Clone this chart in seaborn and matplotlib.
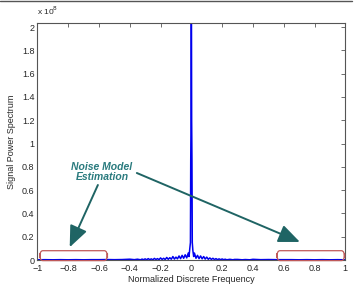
import numpy as np
import pandas as pd
import seaborn as sns
import matplotlib.pyplot as plt
from matplotlib.patches import FancyBboxPatch, FancyArrowPatch
from matplotlib.lines import Line2D

# spectrum (power in units of 1e8)
freq = [-1.00, -0.95, -0.90, -0.85, -0.80, -0.75, -0.70, -0.65, -0.60, -0.55,
        -0.50, -0.45, -0.40, -0.37, -0.35, -0.33, -0.32, -0.31,
        -0.30, -0.29, -0.28, -0.27, -0.26, -0.25, -0.24, -0.23, -0.22, -0.21,
        -0.20, -0.19, -0.18, -0.17, -0.16, -0.15, -0.14, -0.13, -0.12, -0.11,
        -0.10, -0.09, -0.08, -0.07, -0.06, -0.05, -0.04, -0.03, -0.02, -0.015,
        -0.010, -0.006, -0.004, -0.002, 0.0, 0.002, 0.004, 0.006, 0.010, 0.015,
        0.02, 0.03, 0.04, 0.05, 0.06, 0.07, 0.08, 0.09, 0.10, 0.11,
        0.12, 0.13, 0.14, 0.15, 0.16, 0.17, 0.18, 0.19, 0.20, 0.21,
        0.22, 0.23, 0.25, 0.27, 0.28, 0.30, 0.33, 0.35, 0.38, 0.40,
        0.45, 0.50, 0.55, 0.60, 0.65, 0.70, 0.75, 0.80, 0.85, 0.90,
        0.95, 1.00]
power = [0.002, 0.003, 0.002, 0.003, 0.002, 0.003, 0.002, 0.003, 0.003, 0.004,
         0.003, 0.004, 0.007, 0.003, 0.007, 0.002, 0.008, 0.003,
         0.010, 0.002, 0.012, 0.003, 0.010, 0.002, 0.014, 0.004, 0.012, 0.003,
         0.018, 0.005, 0.015, 0.004, 0.022, 0.006, 0.020, 0.007, 0.030, 0.008,
         0.025, 0.010, 0.035, 0.012, 0.040, 0.015, 0.045, 0.018, 0.060, 0.030,
         0.100, 0.150, 0.850, 1.200, 2.600, 1.200, 0.850, 0.150, 0.080, 0.030,
         0.060, 0.015, 0.040, 0.012, 0.035, 0.010, 0.030, 0.008, 0.025, 0.006,
         0.018, 0.005, 0.015, 0.004, 0.012, 0.003, 0.010, 0.003, 0.009, 0.003,
         0.007, 0.002, 0.006, 0.002, 0.005, 0.005, 0.002, 0.004, 0.002, 0.006,
         0.003, 0.004, 0.003, 0.003, 0.003, 0.002, 0.003, 0.002, 0.003, 0.002,
         0.003, 0.002]

xticks = [-1, -0.8, -0.6, -0.4, -0.2, 0, 0.2, 0.4, 0.6, 0.8, 1]
yticks = [0, 0.2, 0.4, 0.6, 0.8, 1, 1.2, 1.4, 1.6, 1.8, 2]

df = pd.DataFrame({"freq": freq, "power": power})

sns.set_style("white")
plt.rcParams['font.family'] = ['Liberation Sans', 'DejaVu Sans']
plt.rcParams['axes.unicode_minus'] = True

fig = plt.figure(figsize=(3.56, 2.87), dpi=100)
ax = fig.add_axes([0.105, 0.094, 0.865, 0.826])

sns.lineplot(data=df, x="freq", y="power", color="#0000ee", lw=1.1,
             estimator=None, ax=ax)

ax.set_xlim(-1, 1)
ax.set_ylim(0, 2.035)
ax.set_xticks(xticks)
ax.set_yticks(yticks)
ax.set_xticklabels([("%g" % t).replace("-", "\u2212") for t in xticks])
ax.set_yticklabels(["%g" % t for t in yticks])
ax.tick_params(direction="in", length=3, width=0.6, labelsize=6.5, pad=2,
               top=True, right=True, color="#555555")
ax.tick_params(axis="x", pad=3)
for s in ax.spines.values():
    s.set_color("#555555")
    s.set_linewidth(0.8)

ax.set_xlabel("Normalized Discrete Frequency", fontsize=6.5, labelpad=1)
ax.set_ylabel("Signal Power Spectrum", fontsize=6.5, labelpad=4)
ax.text(0.0, 1.025, r"x 10$^{8}$", transform=ax.transAxes, fontsize=6,
        ha="left", va="bottom")

# annotation
ax.text(-0.58, 0.755, "Noise Model\nEstimation", color="#2a7b7e",
        fontsize=7.5, fontweight="bold", fontstyle="italic",
        ha="center", va="center", linespacing=1.0)
for (x0, y0), (x1, y1) in [((-0.607, 0.644), (-0.79, 0.11)),
                           ((-0.354, 0.747), (0.705, 0.155))]:
    ax.add_patch(FancyArrowPatch((x0, y0), (x1, y1),
                                 arrowstyle="-|>,head_length=1.3,head_width=0.55",
                                 mutation_scale=10, color="#1f6464", lw=1.4,
                                 shrinkA=0, shrinkB=0, zorder=4))

for bx0, bx1 in [(-0.985, -0.545), (0.555, 0.995)]:
    ax.add_patch(FancyBboxPatch((bx0, -0.005), bx1 - bx0, 0.085,
                                boxstyle="round,pad=0,rounding_size=0.02",
                                fill=False, ec="#c05a5a", lw=0.9,
                                clip_on=False, zorder=5,
                                mutation_aspect=3))

fig.add_artist(Line2D([0, 0.99], [0.996, 0.996], color="#555555", lw=1,
                      transform=fig.transFigure))

fig.savefig("out.png", dpi=100)
